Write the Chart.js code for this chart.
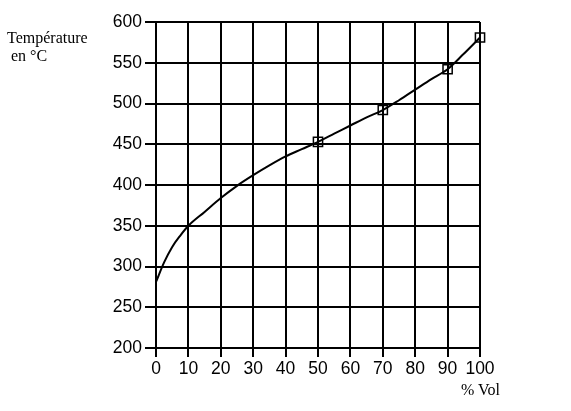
<!DOCTYPE html>
<html>
<head>
<meta charset="utf-8">
<script src="https://cdn.jsdelivr.net/npm/chart.js@4/dist/chart.umd.min.js"></script>
<style>
    body { margin: 0; background: #fff; }
    #wrap { position: relative; width: 571px; height: 411px; }
    .lbl { position: absolute; font-family: "Liberation Serif", "DejaVu Serif", serif; font-size: 16px; color: #000; line-height: 18px; }
</style>
</head>
<body>
<div id="wrap">
    <canvas id="chart" width="571" height="411"></canvas>
    <div class="lbl" style="left:7px; top:29px;">Température<br>&nbsp;en °C</div>
    <div class="lbl" style="left:461px; top:381px;">% Vol</div>
</div>
<script>
const volPct = [0, 2.5, 5, 7.5, 10, 15, 20, 25, 30, 35, 40, 45, 50, 55, 60, 65, 70, 75, 80, 85, 90, 95, 100];
const temps = [281, 305, 324, 338, 350, 367, 384, 399, 412, 424, 435, 444, 453, 463, 473, 483, 492, 504, 517, 530, 542, 561, 581];

const markerPct = [50, 70, 90, 100];
const markerTemps = [453, 492, 542, 581];

const xTicks = [0, 10, 20, 30, 40, 50, 60, 70, 80, 90, 100];
const yTicks = [200, 250, 300, 350, 400, 450, 500, 550, 600];

const curve = volPct.map((v, i) => ({ x: v, y: temps[i] }));
const marks = markerPct.map((v, i) => ({ x: v, y: markerTemps[i] }));

const tickFont = { family: "'Liberation Sans', Arial, sans-serif", size: 17.5 };

const ctx = document.getElementById("chart").getContext("2d");

new Chart(ctx, {
    type: "scatter",
    data: {
        datasets: [{
            data: curve,
            showLine: true,
            borderColor: "#000",
            borderWidth: 2,
            pointRadius: 0,
            cubicInterpolationMode: "monotone",
            fill: false
        }, {
            data: marks,
            showLine: false,
            clip: false,
            pointStyle: "rect",
            pointRadius: 6.5,
            borderColor: "#000",
            borderWidth: 1.5,
            backgroundColor: "rgba(0,0,0,0)"
        }]
    },
    options: {
        responsive: false,
        animation: false,
        layout: { padding: { top: 22, right: 91, left: 0, bottom: 0 } },
        plugins: { legend: { display: false }, tooltip: { enabled: false } },
        scales: {
            x: {
                type: "linear",
                min: 0,
                max: 100,
                afterBuildTicks: (s) => { s.ticks = xTicks.map(v => ({ value: v })); },
                afterFit: (s) => { s.height = 63; },
                grid: { color: "#000", lineWidth: 2, tickLength: 9 },
                border: { color: "#000", width: 2 },
                ticks: { color: "#000", font: tickFont, padding: 2, maxRotation: 0, autoSkip: false }
            },
            y: {
                type: "linear",
                min: 200,
                max: 600,
                afterBuildTicks: (s) => { s.ticks = yTicks.map(v => ({ value: v })); },
                afterFit: (s) => { s.width = 156; },
                grid: { color: "#000", lineWidth: 2, tickLength: 11 },
                border: { color: "#000", width: 2 },
                ticks: { color: "#000", font: tickFont, padding: 3, autoSkip: false }
            }
        }
    }
});
</script>
</body>
</html>
